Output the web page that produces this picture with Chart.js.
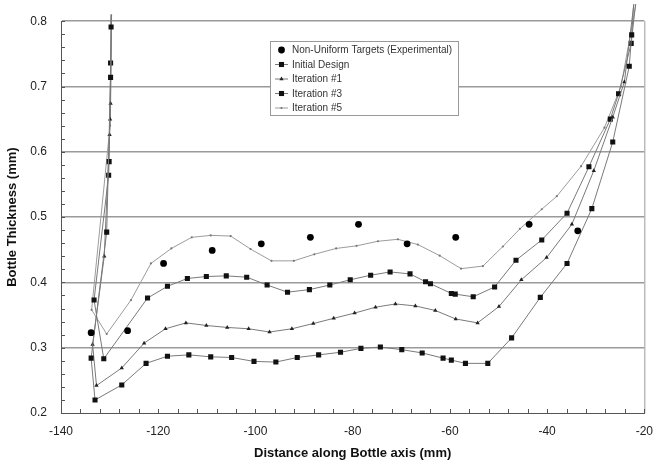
<!DOCTYPE html>
<html>
<head>
<meta charset="utf-8">
<script src="https://cdn.jsdelivr.net/npm/chart.js@4/dist/chart.umd.min.js"></script>
<style>
  html, body { margin: 0; padding: 0; background: #ffffff; }
  #wrap { width: 664px; height: 464px; }
</style>
</head>
<body>
<div id="wrap"><canvas id="c" width="664" height="464"></canvas></div>
<script>
// Axis ticks
const xTicks = [-140, -120, -100, -80, -60, -40, -20];
const yTicks = [0.2, 0.3, 0.4, 0.5, 0.6, 0.7, 0.8];

// Series names
const seriesNames = [
  'Non-Uniform Targets (Experimental)',
  'Initial Design',
  'Iteration #1',
  'Iteration #3',
  'Iteration #5'
];

// Non-uniform thickness targets (experimental)
const targetX = [-133.8, -126.3, -118.9, -108.9, -98.8, -88.7, -78.8, -68.8, -58.8, -43.7, -33.7];
const targetY = [0.323, 0.326, 0.429, 0.449, 0.459, 0.469, 0.489, 0.459, 0.469, 0.489, 0.479];

// Initial design
const initialX = [-129.6, -129.7, -129.8, -130.6, -133.8, -133.0, -127.5, -122.5, -118.1, -113.7, -109.2, -104.9,
  -100.3, -95.8, -91.4, -87.0, -82.5, -78.3, -74.3, -69.9, -65.7, -61.4, -59.7, -56.8, -52.2, -47.3, -41.4,
  -35.9, -30.8, -26.5, -23.1, -22.6, -21.9];
const initialY = [0.81, 0.791, 0.714, 0.477, 0.284, 0.220, 0.243, 0.276, 0.287, 0.289, 0.286, 0.285,
  0.279, 0.278, 0.285, 0.289, 0.293, 0.299, 0.301, 0.297, 0.292, 0.284, 0.281, 0.276, 0.276, 0.315, 0.377,
  0.429, 0.513, 0.615, 0.731, 0.779, 0.86];

// Iteration #1
const iter1X = [-129.6, -129.8, -129.9, -130.0, -131.1, -133.5, -132.7, -127.5, -122.9, -118.5, -114.3, -110.1,
  -105.8, -101.4, -97.1, -92.5, -88.1, -83.9, -79.6, -75.3, -71.2, -67.1, -63.0, -58.8, -54.3, -49.9, -45.3,
  -40.1, -34.9, -30.4, -26.5, -24.1, -21.6];
const iter1Y = [0.81, 0.674, 0.650, 0.626, 0.440, 0.305, 0.242, 0.269, 0.307, 0.329, 0.338, 0.334,
  0.331, 0.329, 0.324, 0.329, 0.337, 0.345, 0.353, 0.362, 0.367, 0.364, 0.357, 0.344, 0.338, 0.363, 0.404,
  0.438, 0.489, 0.571, 0.653, 0.707, 0.86];

// Iteration #3
const iter3X = [-129.6, -129.8, -130.1, -130.2, -133.2, -131.2, -122.2, -118.1, -114.0, -110.1, -106.0, -101.8,
  -97.6, -93.4, -88.9, -84.7, -80.5, -76.3, -72.3, -68.2, -65.0, -64.0, -59.7, -58.9, -55.2, -50.8, -46.4,
  -41.1, -35.9, -31.4, -27.0, -25.3, -22.7, -21.3];
const iter3Y = [0.81, 0.736, 0.585, 0.564, 0.373, 0.283, 0.376, 0.394, 0.406, 0.409, 0.410, 0.408,
  0.396, 0.385, 0.389, 0.396, 0.404, 0.411, 0.416, 0.413, 0.401, 0.398, 0.383, 0.382, 0.378, 0.393, 0.434,
  0.465, 0.506, 0.577, 0.650, 0.689, 0.766, 0.86];

// Iteration #5
const iter5X = [-129.6, -129.9, -133.7, -130.6, -125.6, -121.5, -117.3, -113.1, -109.2, -105.1, -101.0, -96.7,
  -92.1, -87.9, -83.4, -79.2, -74.8, -70.7, -66.6, -62.1, -57.7, -53.2, -49.1, -45.6, -41.1, -38.0,
  -33.0, -28.2, -24.8, -20.9];
const iter5Y = [0.81, 0.640, 0.358, 0.321, 0.373, 0.429, 0.452, 0.469, 0.472, 0.471, 0.451, 0.433,
  0.433, 0.443, 0.452, 0.456, 0.463, 0.466, 0.458, 0.441, 0.421, 0.425, 0.455, 0.482, 0.512, 0.532,
  0.578, 0.637, 0.700, 0.86];

const toPoints = (xs, ys) => xs.map((x, i) => ({ x: x, y: ys[i] }));

const FONT = '"Liberation Sans", Arial, Helvetica, sans-serif';

// Boxed legend placed inside the plot, with small marker samples
const boxLegend = {
  id: 'boxLegend',
  afterDraw(chart) {
    const ctx = chart.ctx;
    const bx = 270.5, by = 41.5, bw = 188, bh = 74;
    ctx.save();
    ctx.fillStyle = '#ffffff';
    ctx.fillRect(bx, by, bw, bh);
    ctx.strokeStyle = '#9a9a9a';
    ctx.lineWidth = 1;
    ctx.strokeRect(bx, by, bw, bh);
    ctx.font = '10px ' + FONT;
    ctx.textBaseline = 'middle';
    ctx.textAlign = 'left';
    chart.data.datasets.forEach((ds, i) => {
      const cy = 50 + i * 14.5;
      const cx = 281.5;
      if (ds.showLine) {
        ctx.strokeStyle = ds.borderColor;
        ctx.lineWidth = 1;
        ctx.beginPath();
        ctx.moveTo(275, cy);
        ctx.lineTo(288, cy);
        ctx.stroke();
      }
      const r = ds.markerSize;
      ctx.fillStyle = ds.pointBackgroundColor;
      ctx.beginPath();
      if (ds.pointStyle === 'rect') {
        const s = r * Math.SQRT1_2;
        ctx.rect(cx - s, cy - s, 2 * s, 2 * s);
      } else if (ds.pointStyle === 'triangle') {
        ctx.moveTo(cx, cy - r);
        ctx.lineTo(cx + r * 0.866, cy + r * 0.5);
        ctx.lineTo(cx - r * 0.866, cy + r * 0.5);
        ctx.closePath();
      } else {
        ctx.arc(cx, cy, r, 0, Math.PI * 2);
      }
      ctx.fill();
      ctx.fillStyle = '#333333';
      ctx.fillText(ds.label, 292, cy + 0.5);
    });
    ctx.restore();
  }
};

// Inward minor ticks on the left and bottom axes, plus the right frame line
const frameTicks = {
  id: 'frameTicks',
  afterDatasetsDraw(chart) {
    const ctx = chart.ctx;
    const xs = chart.scales.x, ys = chart.scales.y;
    const a = chart.chartArea;
    ctx.save();
    ctx.strokeStyle = '#9a9a9a';
    ctx.lineWidth = 1;
    ctx.beginPath();
    ctx.moveTo(a.right + 0.5, a.top);
    ctx.lineTo(a.right + 0.5, a.bottom);
    ctx.stroke();
    ctx.strokeStyle = '#555555';
    ctx.beginPath();
    for (let v = 0; v <= 30; v++) {
      const py = Math.round(ys.getPixelForValue(ys.min + v * 0.02)) + 0.5;
      ctx.moveTo(a.left, py);
      ctx.lineTo(a.left + 4, py);
    }
    for (let v = 0; v <= 30; v++) {
      const px = Math.round(xs.getPixelForValue(xs.min + v * 4)) + 0.5;
      ctx.moveTo(px, a.bottom);
      ctx.lineTo(px, a.bottom - 4);
    }
    ctx.stroke();
    ctx.restore();
  }
};

const yMax = yTicks[yTicks.length - 1];

// Curve with markers; segment ends beyond the top of the axis carry no marker
const lineDs = (label, xs, ys, style, radius, pointColor, lineColor) => ({
  label: label,
  data: toPoints(xs, ys),
  showLine: true,
  borderColor: lineColor,
  borderWidth: 1,
  tension: 0,
  clip: { left: 0, top: 17, right: 0, bottom: 0 },
  pointStyle: style,
  markerSize: radius,
  pointRadius: (c) => (c.raw && c.raw.y > yMax) ? 0 : radius,
  pointHoverRadius: radius,
  pointBackgroundColor: pointColor,
  pointBorderColor: pointColor,
  pointBorderWidth: 0
});

new Chart(document.getElementById('c'), {
  type: 'scatter',
  data: {
    datasets: [
      {
        label: seriesNames[0],
        data: toPoints(targetX, targetY),
        showLine: false,
        pointStyle: 'circle',
        markerSize: 3.4,
        pointRadius: 3.4,
        pointHoverRadius: 3.4,
        pointBackgroundColor: '#000000',
        pointBorderColor: '#000000',
        pointBorderWidth: 0
      },
      lineDs(seriesNames[1], initialX, initialY, 'rect', 3.6, '#111111', '#7a7a7a'),
      lineDs(seriesNames[2], iter1X, iter1Y, 'triangle', 2.5, '#222222', '#7a7a7a'),
      lineDs(seriesNames[3], iter3X, iter3Y, 'rect', 3.6, '#111111', '#7a7a7a'),
      lineDs(seriesNames[4], iter5X, iter5Y, 'circle', 1.1, '#777777', '#9c9c9c')
    ]
  },
  options: {
    responsive: false,
    devicePixelRatio: 1,
    animation: false,
    events: [],
    layout: { padding: { top: 17, right: 19, left: 0, bottom: 0 } },
    plugins: {
      legend: { display: false },
      tooltip: { enabled: false }
    },
    scales: {
      x: {
        type: 'linear',
        min: xTicks[0],
        max: xTicks[xTicks.length - 1],
        afterBuildTicks(scale) { scale.ticks = xTicks.map(v => ({ value: v })); },
        afterFit(scale) { scale.height = 51; },
        ticks: {
          autoSkip: false,
          maxRotation: 0,
          padding: 11,
          color: '#222222',
          font: { family: FONT, size: 12 }
        },
        grid: { drawOnChartArea: false, drawTicks: false },
        border: { display: true, color: '#555555', width: 1 },
        title: {
          display: true,
          text: 'Distance along Bottle axis (mm)',
          color: '#111111',
          font: { family: FONT, size: 13, weight: 'bold' },
          padding: { top: 0, bottom: 3 }
        }
      },
      y: {
        type: 'linear',
        min: yTicks[0],
        max: yMax,
        afterBuildTicks(scale) { scale.ticks = yTicks.map(v => ({ value: v })); },
        afterFit(scale) { scale.width = 61; },
        ticks: {
          padding: 14,
          color: '#222222',
          font: { family: FONT, size: 12 },
          callback: (v) => v.toFixed(1)
        },
        grid: {
          drawTicks: false,
          color: (c) => (c.tick && Math.abs(c.tick.value - yTicks[0]) < 1e-9) ? 'rgba(0,0,0,0)' : '#9a9a9a',
          lineWidth: 1.5
        },
        border: { display: true, color: '#555555', width: 1 },
        title: {
          display: true,
          text: 'Bottle Thickness (mm)',
          color: '#111111',
          font: { family: FONT, size: 13, weight: 'bold' },
          padding: { top: 5, bottom: 0 }
        }
      }
    }
  },
  plugins: [frameTicks, boxLegend]
});
</script>
</body>
</html>
